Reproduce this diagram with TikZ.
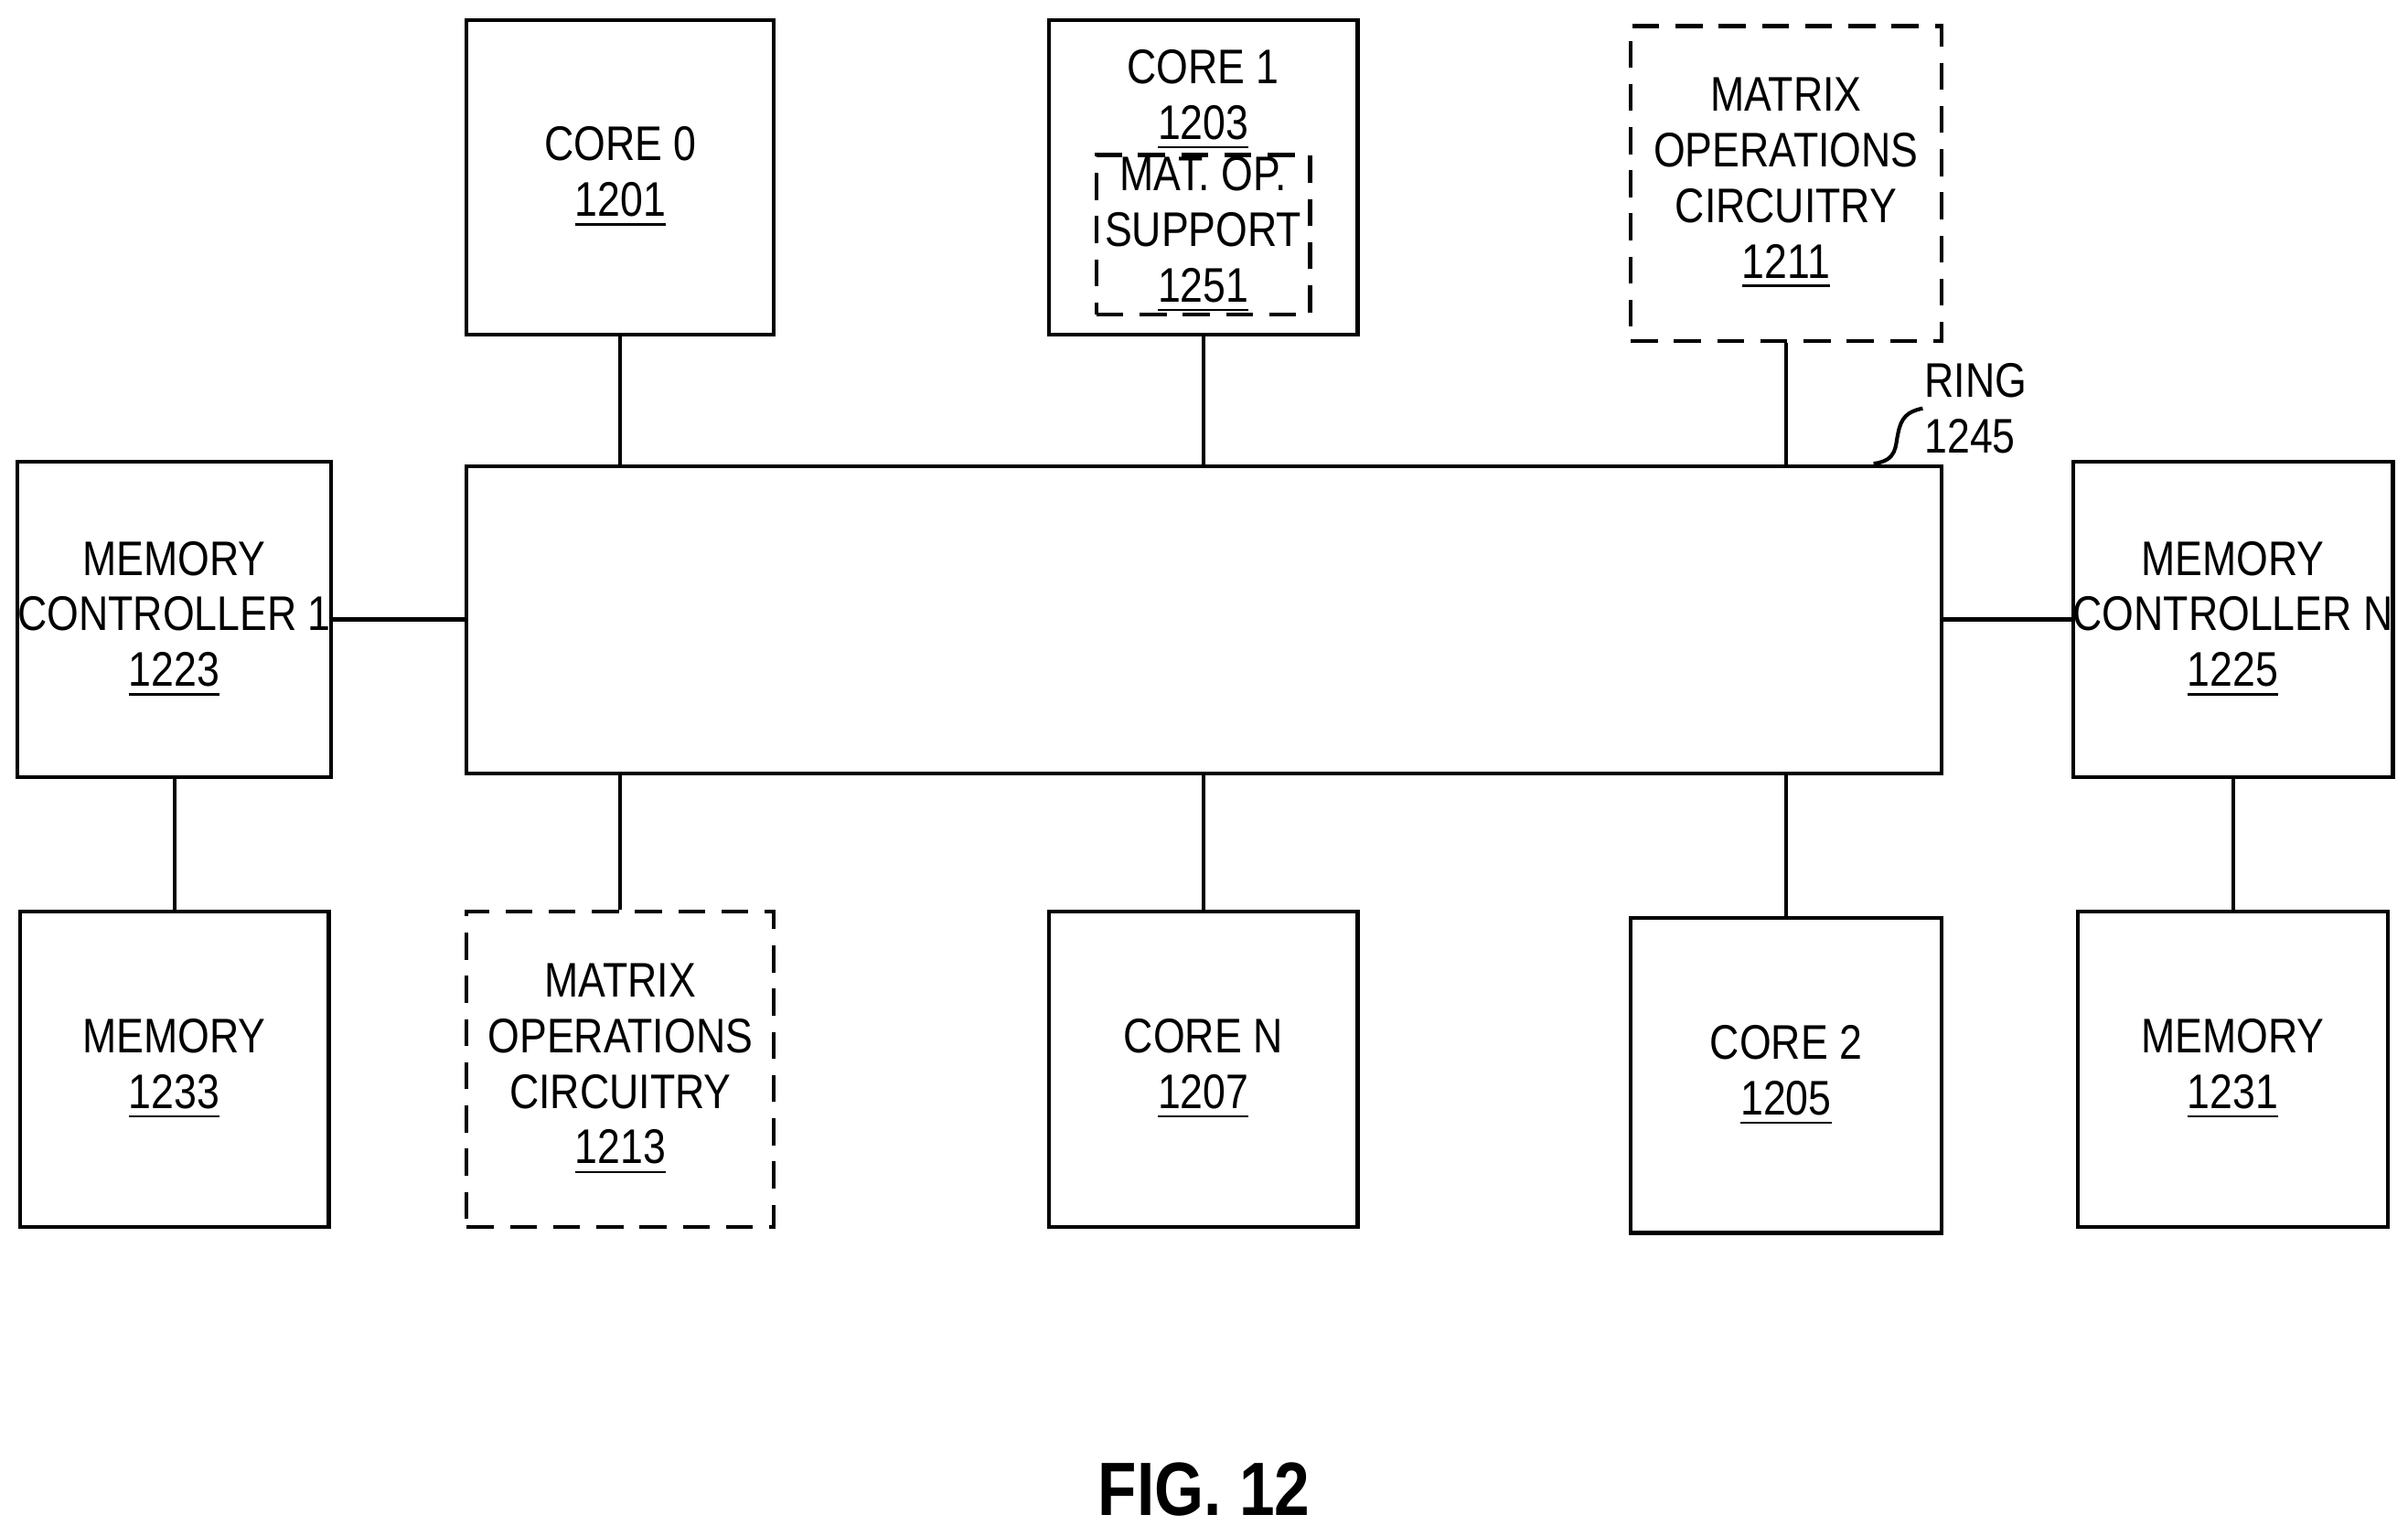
\documentclass[tikz,border=0pt]{standalone}
\usepackage{fontspec}
\setmainfont{Liberation Sans}[FakeStretch=0.84]
\begin{document}
\begin{tikzpicture}[x=0.01cm,y=-0.01cm,line width=0.7pt,
  lbl/.style={align=center,inner sep=0pt,font=\fontsize{9}{10.3}\selectfont},
  bx/.style={draw,lbl,minimum height=2.05cm},
  dsh/.style={dash pattern=on 5pt off 3pt}]
\useasboundingbox (0,0) rectangle (1568,1000);
\node[bx,minimum width=2cm] (c0) at (404,115.5) {CORE 0\\\underline{1201}};
\node[bx,minimum width=2.01cm] (c1) at (783.5,115.5) {};
\node[lbl,anchor=north] (c1t) at (783.5,31) {CORE 1\\\underline{1203}};
\node[draw,dsh,minimum width=1.39cm,minimum height=1.04cm,lbl] (mos) at (783.5,153) {MAT. OP.\\SUPPORT\\\underline{1251}};
\node[bx,dsh,minimum width=2.02cm] (m11) at (1163,119.5) {MATRIX\\OPERATIONS\\CIRCUITRY\\\underline{1211}};
\node[draw,minimum width=9.6cm,minimum height=2cm] (ring) at (784,404) {};
\node[bx,minimum width=2.01cm] (mc1) at (113.5,403.5) {MEMORY\\CONTROLLER 1\\\underline{1223}};
\node[bx,minimum width=2.02cm] (mcn) at (1454,403.5) {MEMORY\\CONTROLLER N\\\underline{1225}};
\node[bx,minimum width=2.01cm] (m33) at (113.5,696.5) {MEMORY\\\underline{1233}};
\node[bx,dsh,minimum width=2cm] (m13) at (404,696.5) {MATRIX\\OPERATIONS\\CIRCUITRY\\\underline{1213}};
\node[bx,minimum width=2.01cm] (cn) at (783.5,696.5) {CORE N\\\underline{1207}};
\node[bx,minimum width=2.02cm] (c2) at (1163,700.5) {CORE 2\\\underline{1205}};
\node[bx,minimum width=2.02cm] (m31) at (1454,696.5) {MEMORY\\\underline{1231}};
\draw (c0.south) -- (c0.south |- ring.north);
\draw (c1.south) -- (c1.south |- ring.north);
\draw (m11.south) -- (m11.south |- ring.north);
\draw (mc1.east) -- (mc1.east -| ring.west);
\draw (mcn.west) -- (mcn.west -| ring.east);
\draw (mc1.south) -- (m33.north);
\draw (mcn.south) -- (m31.north);
\draw (m13.north) -- (m13.north |- ring.south);
\draw (cn.north) -- (cn.north |- ring.south);
\draw (c2.north) -- (c2.north |- ring.south);
\node[lbl,align=left,anchor=west] (rl) at (1252,266) {RING\\1245};
\coordinate (rp) at (1220,302);
\draw (rp) .. controls (1236,300) and (1234,290) .. (1236,282) .. controls (1238,272) and (1242,268) .. (rl.west);
\node[font=\bfseries\fontsize{14}{17}\selectfont] (fig) at (784,970) {FIG. 12};
\end{tikzpicture}
\end{document}
